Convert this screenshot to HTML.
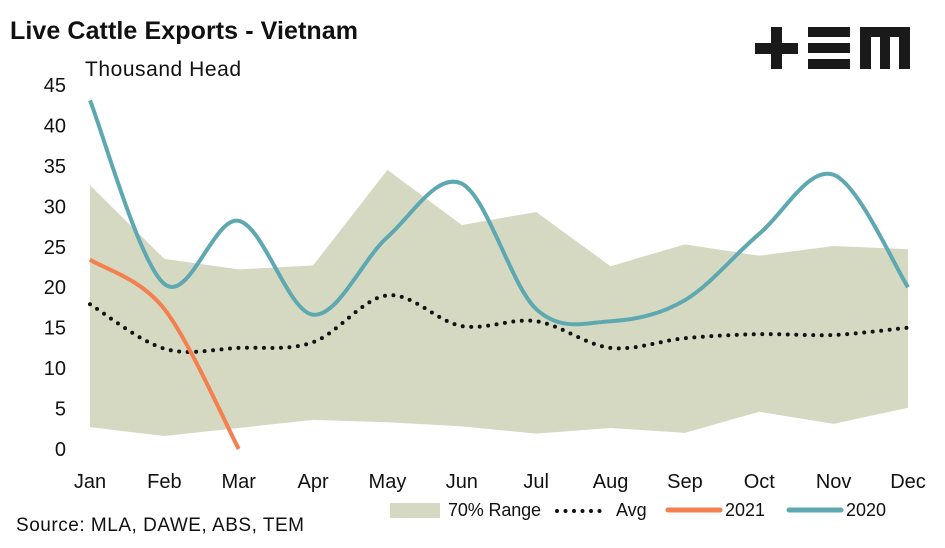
<!DOCTYPE html>
<html><head><meta charset="utf-8"><style>
body{margin:0;background:#fff;}
svg text{font-family:"Liberation Sans",sans-serif;fill:#111;}
</style></head><body>
<svg id="c" width="945" height="543" xmlns="http://www.w3.org/2000/svg">
<text x="10" y="39" font-size="25" font-weight="bold" textLength="348">Live Cattle Exports - Vietnam</text>
<text x="85" y="76" font-size="21" textLength="156">Thousand Head</text>
<g fill="#1a1a1a">
<rect x="755" y="43" width="43" height="11"/><rect x="771" y="27" width="11" height="42"/>
<rect x="808" y="27" width="42" height="10"/><rect x="808" y="43" width="42" height="10"/><rect x="808" y="59" width="42" height="10"/>
<path d="M860 27H910V69H899V37H890V69H880V37H871V69H860Z"/>
</g>
<g id="plot"></g>
<text x="16" y="531" font-size="19" textLength="288">Source: MLA, DAWE, ABS, TEM</text>
<g>
<rect x="390" y="503" width="50" height="15" fill="#d6d9c2"/>
<text x="448" y="516" font-size="18" textLength="93">70% Range</text>
<line x1="557" y1="511" x2="608" y2="511" stroke="#111" stroke-width="4" stroke-linecap="round" stroke-dasharray="0 8.5"/>
<text x="616" y="516" font-size="18">Avg</text>
<line x1="668" y1="510" x2="720" y2="510" stroke="#f47f4f" stroke-width="5" stroke-linecap="round"/>
<text x="725" y="516" font-size="18">2021</text>
<line x1="789" y1="510" x2="841" y2="510" stroke="#5ea8b2" stroke-width="5" stroke-linecap="round"/>
<text x="846" y="516" font-size="18">2020</text>
</g>
</svg>
<script>
const months=["Jan","Feb","Mar","Apr","May","Jun","Jul","Aug","Sep","Oct","Nov","Dec"];
const yTicks=[0,5,10,15,20,25,30,35,40,45];
const rangeHigh=[32.6,23.5,22.2,22.7,34.5,27.7,29.3,22.6,25.3,23.9,25.1,24.7];
const rangeLow=[2.7,1.6,2.6,3.6,3.3,2.8,1.9,2.6,2.0,4.6,3.1,5.1];
const avg=[17.9,12.4,12.5,13.2,19.0,15.2,15.8,12.5,13.7,14.2,14.1,15.0];
const s2021=[23.4,17.3,0];
const s2020=[43.1,20.4,28.2,16.6,26.2,32.8,17.3,15.8,18.4,26.6,33.9,20.0];
const X=i=>90+i*(818/11);
const Y=v=>449-v*(364/45);
const g=document.getElementById('plot');
const NS="http://www.w3.org/2000/svg";
function mk(t,a){const e=document.createElementNS(NS,t);for(const k in a)e.setAttribute(k,a[k]);g.appendChild(e);return e;}
function smooth(vals){const p=vals.map((v,i)=>[X(i),Y(v)]);let d="M"+p[0];
for(let i=0;i<p.length-1;i++){const p0=p[i-1]||p[i],p1=p[i],p2=p[i+1],p3=p[i+2]||p2;const t=1/6;
d+=` C${p1[0]+(p2[0]-p0[0])*t},${p1[1]+(p2[1]-p0[1])*t} ${p2[0]-(p3[0]-p1[0])*t},${p2[1]-(p3[1]-p1[1])*t} ${p2[0]},${p2[1]}`;}return d;}
let d="M"+rangeHigh.map((v,i)=>X(i)+","+Y(v)).join("L")+"L"+rangeLow.map((v,i)=>X(i)+","+Y(v)).reverse().join("L")+"Z";
let e=mk('path',{d:d,fill:"#d6d9c2"});


yTicks.forEach(v=>{const t=mk('text',{x:66,y:Y(v)+7,"font-size":20,"text-anchor":"end"});t.textContent=v;

});
months.forEach((m,i)=>{const t=mk('text',{x:X(i),y:488,"font-size":20,"text-anchor":"middle"});t.textContent=m;

});
e=mk('path',{d:smooth(avg),fill:"none",stroke:"#111","stroke-width":4,"stroke-linecap":"round","stroke-dasharray":"0 8.5"});


e=mk('path',{d:smooth(s2021),fill:"none",stroke:"#f47f4f","stroke-width":4});


e=mk('path',{d:smooth(s2020),fill:"none",stroke:"#5ea8b2","stroke-width":4});


</script>
</body></html>
